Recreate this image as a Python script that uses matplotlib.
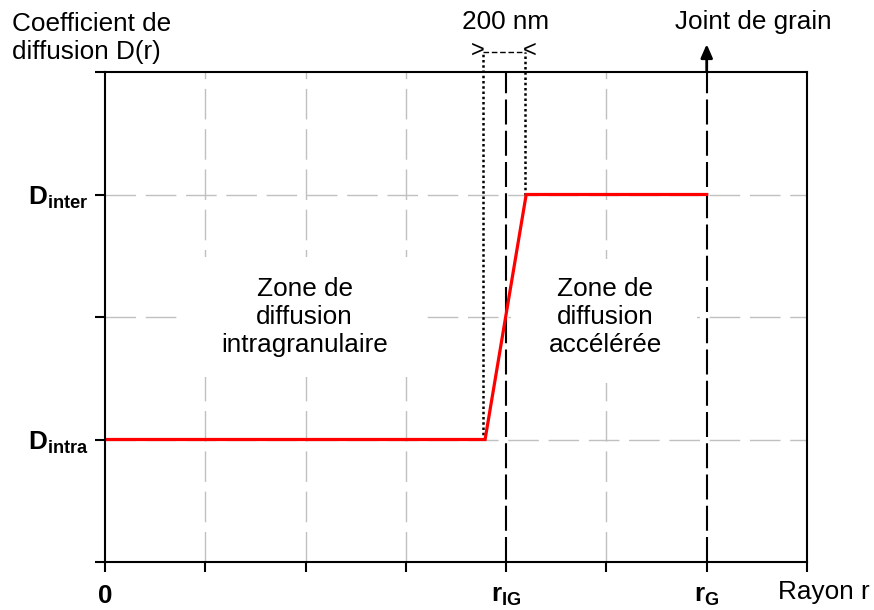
"""
Profil du coefficient de diffusion D(r) en fonction du rayon r.
"""

import matplotlib
matplotlib.use("Agg")
import matplotlib.pyplot as plt
from matplotlib.patches import Rectangle

plt.rcParams['font.family'] = ['Liberation Sans', 'DejaVu Sans']
plt.rcParams['mathtext.fontset'] = 'custom'
plt.rcParams['mathtext.rm'] = 'Liberation Sans'
plt.rcParams['mathtext.bf'] = 'Liberation Sans:bold'

# Data
RAYON = [0, 3.79, 4.2, 6]
D_R = [1, 1, 3, 3]
X_TICKS = [0, 1, 2, 3, 4, 5, 6, 7]
X_LABELS = [r'$\mathbf{0}$', '', '', '', r'$\mathbf{r_{IG}}$', '', r'$\mathbf{r_G}$', '']
Y_TICKS = [0, 1, 2, 3, 4]
Y_LABELS = ['', r'$\mathbf{D_{intra}}$', '', r'$\mathbf{D_{inter}}$', '']
R_IG = 4
R_G = 6
ZONE_200NM = [3.77, 4.19]
FS = 18.8

fig = plt.figure(figsize=(8.74, 6.10), dpi=100)
ax = fig.add_axes([105 / 874, 48 / 610, 702 / 874, 490 / 610])
ax.set_xlim(0, 7)
ax.set_ylim(0, 4)

# grid (gray dashed)
for x in [1, 2, 3, 5]:
    ax.axvline(x, color='#c0c0c0', lw=1.0, dashes=(22, 7), zorder=1)
for y in [1, 2, 3]:
    ax.axhline(y, color='#c0c0c0', lw=1.0, dashes=(22, 7), zorder=1)

# white boxes behind zone labels
ax.add_patch(Rectangle((0.75, 1.51), 2.44, 0.98, facecolor='white',
                       edgecolor='none', zorder=2))
ax.add_patch(Rectangle((4.05, 1.46), 1.85, 1.01, facecolor='white',
                       edgecolor='none', zorder=2))
ax.text(1.99, 2.0, 'Zone de\ndiffusion\nintragranulaire', ha='center',
        va='center', fontsize=FS, zorder=3)
ax.text(4.99, 2.0, 'Zone de\ndiffusion\naccélérée', ha='center',
        va='center', fontsize=FS, zorder=3)

# r_IG and r_G black dashed lines
ax.axvline(R_IG, color='black', lw=1.5, dashes=(12, 3), zorder=4)
ax.axvline(R_G, color='black', lw=1.5, dashes=(12, 3), zorder=4)

# 200 nm zone markers
y_top = 4.163
ax.plot([ZONE_200NM[0]] * 2, [1, y_top], color='black', lw=1.8,
        ls=(0, (1, 1.1)), clip_on=False, zorder=4)
ax.plot([ZONE_200NM[1]] * 2, [3, y_top], color='black', lw=1.8,
        ls=(0, (1, 1.1)), clip_on=False, zorder=4)
ax.plot(ZONE_200NM, [y_top, y_top], color='black', lw=1.0,
        ls=(0, (4, 2)), clip_on=False, zorder=4)
ax.text(ZONE_200NM[0] + 0.02, y_top + 0.01, '>', ha='right', va='center',
        fontsize=17)
ax.text(ZONE_200NM[1] - 0.02, y_top + 0.01, '<', ha='left', va='center',
        fontsize=17)
ax.text(3.99, 4.41, '200 nm', ha='center', va='center', fontsize=FS)

# grain boundary arrow
ax.annotate('', xy=(R_G, 4.25), xytext=(R_G, 3.98),
            arrowprops=dict(arrowstyle='-|>,head_width=0.35,head_length=0.8',
                            color='black', lw=2), annotation_clip=False)
ax.text(6.46, 4.41, 'Joint de grain', ha='center', va='center', fontsize=FS)

# diffusion profile
ax.plot(RAYON, D_R, color='red', lw=2.3, zorder=5, solid_joinstyle='miter')

# axes styling
for side in ['left', 'right', 'top', 'bottom']:
    ax.spines[side].set_linewidth(1.5)
    ax.spines[side].set_zorder(6)
ax.set_xticks(X_TICKS)
ax.set_xticklabels(X_LABELS, fontsize=FS)
ax.set_yticks(Y_TICKS)
ax.set_yticklabels(Y_LABELS, fontsize=FS)
ax.tick_params(direction='out', length=7, width=1.5)
ax.tick_params(axis='y', pad=5)
ax.tick_params(axis='x', pad=9)

fig.text(12 / 874, 1 - 38 / 610, 'Coefficient de\ndiffusion D(r)',
         ha='left', va='center', fontsize=FS)
fig.text(778 / 874, 1 - 592 / 610, 'Rayon r', ha='left', va='center',
         fontsize=FS)

fig.savefig('out.png', dpi=100)
